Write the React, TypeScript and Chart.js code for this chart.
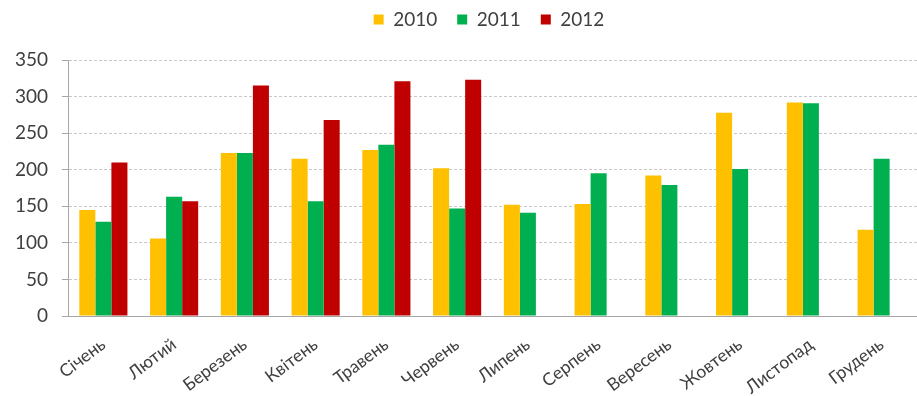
import React, { useEffect, useRef } from "react";
import { Chart, registerables } from "chart.js";

Chart.register(...registerables);

const categories = ["Січень", "Лютий", "Березень", "Квітень", "Травень", "Червень", "Липень", "Серпень", "Вересень", "Жовтень", "Листопад", "Грудень"];
const series2010 = [145, 106, 223, 215, 227, 202, 152, 153, 192, 278, 292, 118];
const series2011 = [129, 163, 223, 157, 234, 147, 141, 195, 179, 201, 291, 215];
const series2012 = [210, 157, 315, 268, 321, 323, null, null, null, null, null, null];
const yTicks = [0, 50, 100, 150, 200, 250, 300, 350];

const legendTweak = {
  id: "legendTweak",
  beforeLayout(chart: any) {
    const lg = chart.legend;
    if (lg && !lg._patched) {
      const orig = lg.fit.bind(lg);
      lg.fit = function () {
        orig();
        this.height += 11;
      };
      lg._patched = true;
    }
  },
  afterLayout(chart: any) {
    const lg = chart.legend;
    if (lg) {
      lg.left += 22;
      lg.right += 22;
      lg.top -= 10;
      lg.bottom -= 10;
    }
  },
};

export default function App() {
  const ref = useRef<HTMLCanvasElement | null>(null);
  useEffect(() => {
    document.body.style.margin = "0";
    const ctx = ref.current!;
    const font = "Lato, 'Open Sans', sans-serif";
    const chart = new Chart(ctx, {
      type: "bar",
      data: {
        labels: categories,
        datasets: [
          { label: "2010", data: series2010, backgroundColor: "#FFC000" },
          { label: "2011", data: series2011, backgroundColor: "#00B050" },
          { label: "2012", data: series2012 as any, backgroundColor: "#C00000" },
        ],
      },
      plugins: [legendTweak],
      options: {
        animation: false,
        responsive: false,
        maintainAspectRatio: false,
        layout: { padding: { left: 14, right: -3, top: 0, bottom: 0 } },
        datasets: { bar: { categoryPercentage: 0.68, barPercentage: 1 } },
        plugins: {
          legend: {
            position: "top",
            labels: {
              boxWidth: 10,
              boxHeight: 10,
              padding: 20,
              color: "#404040",
              font: { family: font, size: 19 },
            },
          },
          tooltip: { enabled: false },
        },
        scales: {
          x: {
            grid: { display: false, drawTicks: false },
            border: { display: true, color: "#a6a6a6" },
            afterFit: (s: any) => {
              s.paddingLeft = 0;
              s.paddingRight = 0;
              s.height = 80;
            },
            ticks: {
              color: "#404040",
              font: { family: font, size: 17.5 },
              minRotation: 37,
              maxRotation: 37,
              padding: 18,
              autoSkip: false,
            },
          },
          y: {
            min: 0,
            max: 350,
            afterBuildTicks: (axis: any) => {
              axis.ticks = yTicks.map((v) => ({ value: v }));
            },
            afterFit: (s: any) => {
              s.width = 54;
            },
            grid: { color: "#c8c8c8", tickColor: "#a6a6a6", tickLength: 6 },
            border: { display: true, color: "#a6a6a6", dash: [3, 2] },
            ticks: {
              color: "#404040",
              font: { family: font, size: 19 },
              padding: 14,
            },
          },
        },
      },
    });
    return () => chart.destroy();
  }, []);
  return <canvas ref={ref} width={917} height={396} style={{ display: "block" }} />;
}
